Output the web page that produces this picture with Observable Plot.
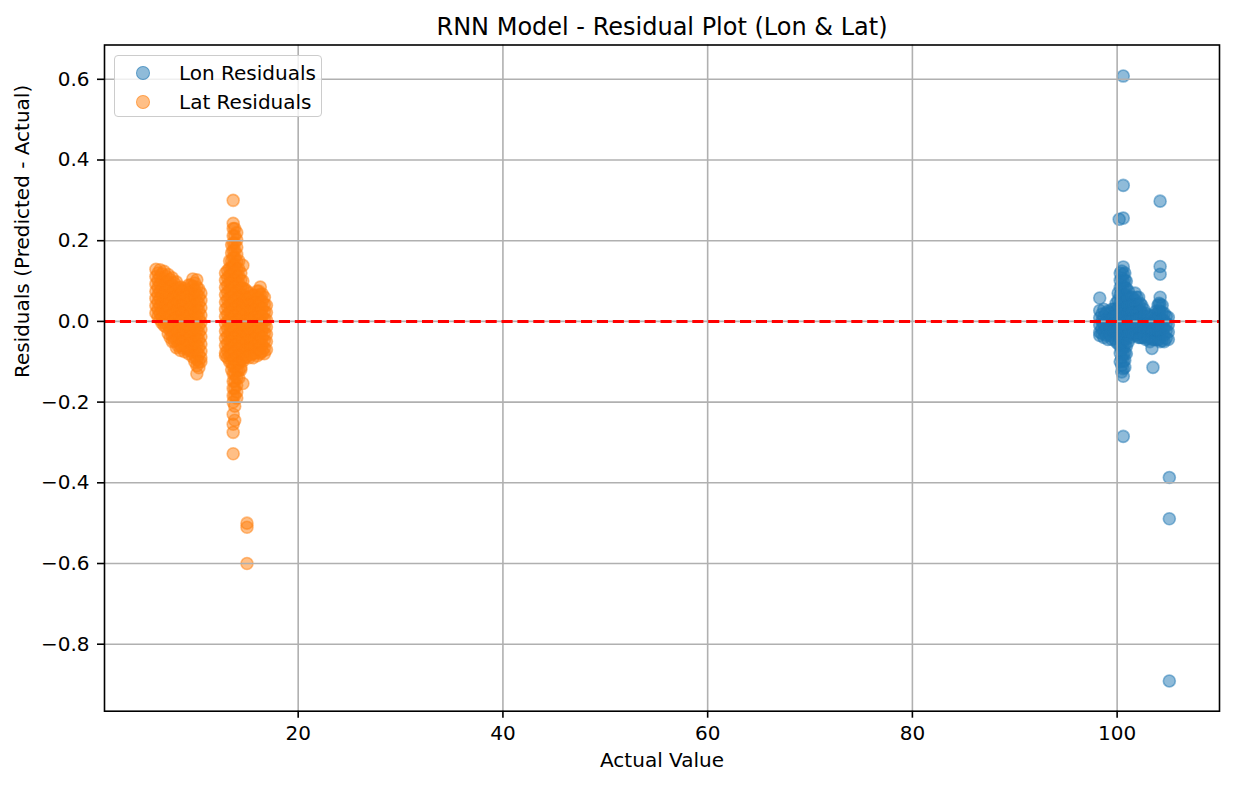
<!DOCTYPE html>
<html>
<head>
<meta charset="utf-8">
<script src="https://cdn.jsdelivr.net/npm/d3@7"></script>
<script src="https://cdn.jsdelivr.net/npm/@observablehq/plot@0.6"></script>
<style>
  body { margin: 0; background: #fff; }
  #wrap { position: relative; width: 1234px; height: 785px; font-family: "DejaVu Sans", sans-serif; }
  #legend { position: absolute; left: 114px; top: 54.5px; width: 208px; height: 62px;
    border: 1.3px solid #cccccc; border-radius: 4px; background: rgba(255,255,255,0.8); box-sizing: border-box; }
  .item { position: absolute; left: 0; height: 24px; font-size: 20px; line-height: 24px; color: #000; white-space: nowrap; }
  .sw { position: absolute; width: 12px; height: 12px; border-radius: 50%; top: 5px; left: 21px; border-width: 1.5px; border-style: solid; }
  .lab { position: absolute; left: 64px; top: 0; }
</style>
</head>
<body>
<div id="wrap"></div>
<script>
const titleText = "RNN Model - Residual Plot (Lon & Lat)";
const xLabel = "Actual Value";
const yLabel = "Residuals (Predicted - Actual)";
const seriesNames = ["Lon Residuals", "Lat Residuals"];
const seriesColors = ["#1f77b4", "#ff7f0e"];
const xTicks = [20, 40, 60, 80, 100];
const yTicks = [-0.8, -0.6, -0.4, -0.2, 0.0, 0.2, 0.4, 0.6];

// Lon residuals: [actual value, list of residuals]
const lonCols = [
  [98.3, [0.058, 0.027, 0.009, -0.009, -0.027, -0.035]],
  [98.7, [0.030, 0.012, -0.006, -0.024, -0.040]],
  [99.1, [0.025, 0.007, -0.011, -0.029, -0.045]],
  [99.5, [0.030, 0.012, -0.006, -0.024, -0.045]],
  [99.9, [0.045, 0.027, 0.009, -0.009, -0.027, -0.050]],
  [100.3, [0.120, 0.102, 0.084, 0.066, 0.048, 0.030, 0.012, -0.006, -0.024, -0.042, -0.060, -0.078, -0.100]],
  [100.6, [0.135, 0.117, 0.099, 0.081, 0.063, 0.045, 0.027, 0.009, -0.009, -0.027, -0.045, -0.063, -0.081, -0.099, -0.117, -0.136]],
  [100.9, [0.100, 0.082, 0.064, 0.046, 0.028, 0.010, -0.008, -0.026, -0.044, -0.062, -0.080]],
  [101.3, [0.060, 0.042, 0.024, 0.006, -0.012, -0.030, -0.040]],
  [101.75, [0.070, 0.052, 0.034, 0.016, -0.002, -0.020, -0.035]],
  [102.1, [0.060, 0.042, 0.024, 0.006, -0.012, -0.030, -0.040]],
  [102.4, [0.040, 0.022, 0.004, -0.014, -0.032, -0.040]],
  [102.8, [0.020, 0.002, -0.016, -0.034, -0.045]],
  [103.2, [0.015, -0.003, -0.021, -0.039, -0.050]],
  [103.4, [-0.067]],
  [103.5, [-0.114]],
  [103.6, [0.015, -0.003, -0.021, -0.039, -0.045]],
  [104.0, [0.040, 0.022, 0.004, -0.014, -0.032, -0.045]],
  [104.2, [0.298, 0.136, 0.117, 0.060, 0.042, 0.024, 0.006, -0.012, -0.030, -0.050]],
  [104.6, [0.020, 0.002, -0.016, -0.034, -0.050]],
  [105.0, [0.010, -0.008, -0.026, -0.045]],
  [105.1, [-0.387, -0.489, -0.891]],
  [100.2, [0.253]],
  [100.6, [0.608, 0.337, 0.256, -0.285]]
];
// Lon residuals, in-between readings of the dense core
const lonColsB = [
  [98.5, [0.018, 0.000, -0.018, -0.030]],
  [98.9, [0.020, 0.002, -0.016, -0.034]],
  [99.3, [0.020, 0.002, -0.016, -0.034]],
  [99.7, [0.030, 0.012, -0.006, -0.024, -0.042]],
  [100.1, [0.070, 0.052, 0.034, 0.016, -0.002, -0.020, -0.038, -0.056]],
  [100.45, [0.125, 0.107, 0.089, 0.071, 0.053, 0.035, 0.017, -0.001, -0.019, -0.037, -0.055, -0.073, -0.091, -0.109, -0.125]],
  [100.75, [0.120, 0.102, 0.084, 0.066, 0.048, 0.030, 0.012, -0.006, -0.024, -0.042, -0.060, -0.078, -0.096, -0.114]],
  [101.1, [0.075, 0.057, 0.039, 0.021, 0.003, -0.015, -0.033, -0.050]],
  [101.5, [0.060, 0.042, 0.024, 0.006, -0.012, -0.030]],
  [101.9, [0.060, 0.042, 0.024, 0.006, -0.012, -0.030]],
  [102.25, [0.045, 0.027, 0.009, -0.009, -0.027, -0.040]],
  [102.6, [0.030, 0.012, -0.006, -0.024, -0.040]],
  [103.0, [0.012, -0.006, -0.024, -0.042]],
  [103.4, [0.010, -0.008, -0.026, -0.044]],
  [103.8, [0.025, 0.007, -0.011, -0.029, -0.045]],
  [104.1, [0.045, 0.027, 0.009, -0.009, -0.027, -0.045]],
  [104.4, [0.040, 0.022, 0.004, -0.014, -0.032, -0.048]],
  [104.8, [0.012, -0.006, -0.024, -0.042]]
];

// Lat residuals: [actual value, list of residuals]
const latCols = [
  [6.1, [0.129, 0.111, 0.093, 0.075, 0.057, 0.039, 0.021]],
  [6.5, [0.128, 0.110, 0.092, 0.074, 0.056, 0.038, 0.020, 0.005]],
  [6.9, [0.124, 0.106, 0.088, 0.070, 0.052, 0.034, 0.016, -0.002, -0.010]],
  [7.3, [0.116, 0.098, 0.080, 0.062, 0.044, 0.026, 0.008, -0.010, -0.030]],
  [7.7, [0.108, 0.090, 0.072, 0.054, 0.036, 0.018, 0.000, -0.018, -0.036, -0.050]],
  [8.1, [0.098, 0.080, 0.062, 0.044, 0.026, 0.008, -0.010, -0.028, -0.046, -0.065]],
  [8.5, [0.085, 0.067, 0.049, 0.031, 0.013, -0.005, -0.023, -0.041, -0.059, -0.072]],
  [8.9, [0.082, 0.064, 0.046, 0.028, 0.010, -0.008, -0.026, -0.044, -0.062, -0.075]],
  [9.3, [0.090, 0.072, 0.054, 0.036, 0.018, 0.000, -0.018, -0.036, -0.054, -0.072, -0.080]],
  [9.7, [0.105, 0.087, 0.069, 0.051, 0.033, 0.015, -0.003, -0.021, -0.039, -0.057, -0.075, -0.088]],
  [10.1, [0.103, 0.085, 0.067, 0.049, 0.031, 0.013, -0.005, -0.023, -0.041, -0.059, -0.077, -0.095, -0.110, -0.130]],
  [10.5, [0.070, 0.052, 0.034, 0.016, -0.002, -0.020, -0.038, -0.056, -0.074, -0.090, -0.100]],
  [12.9, [0.120, 0.102, 0.084, 0.066, 0.048, 0.030, 0.012, -0.006, -0.024, -0.042, -0.060, -0.078, -0.085]],
  [13.3, [0.150, 0.132, 0.114, 0.096, 0.078, 0.060, 0.042, 0.024, 0.006, -0.012, -0.030, -0.048, -0.066, -0.084, -0.100]],
  [13.65, [0.300, 0.243, 0.230, 0.212, 0.194, 0.176, 0.158, 0.140, 0.122, 0.104, 0.086, 0.068, 0.050, 0.032, 0.014, -0.004, -0.022, -0.040, -0.058, -0.076, -0.094, -0.112, -0.130, -0.148, -0.166, -0.184, -0.200, -0.230, -0.255, -0.275, -0.328]],
  [14.0, [0.220, 0.202, 0.184, 0.166, 0.148, 0.130, 0.112, 0.094, 0.076, 0.058, 0.040, 0.022, 0.004, -0.014, -0.032, -0.050, -0.068, -0.086, -0.104, -0.122, -0.140, -0.158, -0.175, -0.190]],
  [14.4, [0.120, 0.102, 0.084, 0.066, 0.048, 0.030, 0.012, -0.006, -0.024, -0.042, -0.060, -0.078, -0.096, -0.114, -0.120]],
  [14.6, [0.139, -0.154]],
  [14.8, [0.080, 0.062, 0.044, 0.026, 0.008, -0.010, -0.028, -0.046, -0.064, -0.082, -0.090]],
  [15.0, [-0.500, -0.510, -0.600]],
  [15.2, [0.070, 0.052, 0.034, 0.016, -0.002, -0.020, -0.038, -0.056, -0.074, -0.090]],
  [15.6, [0.065, 0.047, 0.029, 0.011, -0.007, -0.025, -0.043, -0.061, -0.079, -0.090]],
  [16.0, [0.075, 0.057, 0.039, 0.021, 0.003, -0.015, -0.033, -0.051, -0.069, -0.085]],
  [16.3, [0.085, 0.067, 0.049, 0.031, 0.013, -0.005, -0.023, -0.041, -0.059, -0.077, -0.080]],
  [16.7, [0.060, 0.042, 0.024, 0.006, -0.012, -0.030, -0.048, -0.066, -0.080]],
  [16.9, [0.040, 0.022, 0.004, -0.014, -0.032, -0.050, -0.070]]
];
// Lat residuals, in-between readings of the dense core
const latColsB = [
  [6.3, [0.120, 0.102, 0.084, 0.066, 0.048, 0.030, 0.012]],
  [6.7, [0.118, 0.100, 0.082, 0.064, 0.046, 0.028, 0.010, -0.004]],
  [7.1, [0.112, 0.094, 0.076, 0.058, 0.040, 0.022, 0.004, -0.014]],
  [7.5, [0.104, 0.086, 0.068, 0.050, 0.032, 0.014, -0.004, -0.022, -0.040]],
  [7.9, [0.095, 0.077, 0.059, 0.041, 0.023, 0.005, -0.013, -0.031, -0.049]],
  [8.3, [0.083, 0.065, 0.047, 0.029, 0.011, -0.007, -0.025, -0.043, -0.061]],
  [8.7, [0.075, 0.057, 0.039, 0.021, 0.003, -0.015, -0.033, -0.051, -0.066]],
  [9.1, [0.078, 0.060, 0.042, 0.024, 0.006, -0.012, -0.030, -0.048, -0.066]],
  [9.5, [0.090, 0.072, 0.054, 0.036, 0.018, 0.000, -0.018, -0.036, -0.054, -0.072]],
  [9.9, [0.095, 0.077, 0.059, 0.041, 0.023, 0.005, -0.013, -0.031, -0.049, -0.067, -0.085, -0.100]],
  [10.3, [0.080, 0.062, 0.044, 0.026, 0.008, -0.010, -0.028, -0.046, -0.064, -0.082, -0.100, -0.115]],
  [13.1, [0.126, 0.108, 0.090, 0.072, 0.054, 0.036, 0.018, 0.000, -0.018, -0.036, -0.054, -0.072, -0.090]],
  [13.5, [0.190, 0.170, 0.150, 0.132, 0.114, 0.096, 0.078, 0.060, 0.042, 0.024, 0.006, -0.012, -0.030, -0.048, -0.066, -0.084, -0.102, -0.120]],
  [13.8, [0.230, 0.212, 0.194, 0.176, 0.158, 0.140, 0.122, 0.104, 0.086, 0.068, 0.050, 0.032, 0.014, -0.004, -0.022, -0.040, -0.058, -0.076, -0.094, -0.112, -0.130, -0.148, -0.166, -0.184, -0.210, -0.245]],
  [14.2, [0.150, 0.130, 0.112, 0.094, 0.076, 0.058, 0.040, 0.022, 0.004, -0.014, -0.032, -0.050, -0.068, -0.086, -0.104, -0.122, -0.140]],
  [14.6, [0.100, 0.082, 0.064, 0.046, 0.028, 0.010, -0.008, -0.026, -0.044, -0.062, -0.080, -0.098]],
  [15.0, [0.075, 0.057, 0.039, 0.021, 0.003, -0.015, -0.033, -0.051, -0.069, -0.087]],
  [15.4, [0.062, 0.044, 0.026, 0.008, -0.010, -0.028, -0.046, -0.064, -0.082]],
  [15.8, [0.065, 0.047, 0.029, 0.011, -0.007, -0.025, -0.043, -0.061, -0.079]],
  [16.15, [0.075, 0.057, 0.039, 0.021, 0.003, -0.015, -0.033, -0.051, -0.069]],
  [16.5, [0.068, 0.050, 0.032, 0.014, -0.004, -0.022, -0.040, -0.058, -0.074]]
];

function toRows(cols, series) {
  const rows = [];
  for (const [x, ys] of cols) for (const y of ys) rows.push({x, y, series});
  return rows;
}
const lonRows = toRows(lonCols, seriesNames[0]).concat(toRows(lonColsB, seriesNames[0]));
const latRows = toRows(latCols, seriesNames[1]).concat(toRows(latColsB, seriesNames[1]));

const dotStyle = (c) => ({x: "x", y: "y", r: 6, fill: c, fillOpacity: 0.5, stroke: c, strokeOpacity: 0.5, strokeWidth: 1.6});

const chart = Plot.plot({
  width: 1234,
  height: 785,
  marginLeft: 104,
  marginRight: 15,
  marginTop: 44.5,
  marginBottom: 74.3,
  x: {domain: [1.08, 110.0]},
  y: {domain: [-0.966, 0.685]},
  style: {fontFamily: "DejaVu Sans, sans-serif", fontSize: "20px", background: "white", color: "black", overflow: "visible"},
  marks: [
    Plot.dot(lonRows, dotStyle(seriesColors[0])),
    Plot.dot(latRows, dotStyle(seriesColors[1])),
    Plot.gridX(xTicks, {stroke: "#b0b0b0", strokeOpacity: 1, strokeWidth: 1.6}),
    Plot.gridY(yTicks, {stroke: "#b0b0b0", strokeOpacity: 1, strokeWidth: 1.6}),
    Plot.ruleY([0], {stroke: "red", strokeWidth: 3, strokeDasharray: "11.1,4.8"}),
    Plot.frame({stroke: "#000", strokeWidth: 1.6}),
    Plot.axisX(xTicks, {tickSize: 7, tickPadding: 8, fontSize: 20, label: null, strokeWidth: 1.6, tickFormat: d3.format("d")}),
    Plot.axisY(yTicks, {tickSize: 7, tickPadding: 8, fontSize: 20, label: null, strokeWidth: 1.6, tickFormat: d3.format(".1f")}),
    Plot.text([titleText], {frameAnchor: "top", dy: -17.5, fontSize: 24, lineAnchor: "middle", text: d => d}),
    Plot.text([xLabel], {frameAnchor: "bottom", dy: 49.5, fontSize: 20, lineAnchor: "middle", text: d => d}),
    Plot.text([yLabel], {frameAnchor: "left", dx: -82, rotate: -90, fontSize: 20, lineAnchor: "middle", text: d => d})
  ]
});

const wrap = document.getElementById("wrap");
wrap.appendChild(chart);

// legend
const legend = document.createElement("div");
legend.id = "legend";
seriesNames.forEach((name, i) => {
  const item = document.createElement("div");
  item.className = "item";
  item.style.top = (5.5 + i * 29) + "px";
  item.style.width = "100%";
  const sw = document.createElement("span");
  sw.className = "sw";
  const col = d3.color(seriesColors[i]);
  col.opacity = 0.5;
  sw.style.background = col.formatRgb();
  sw.style.borderColor = col.formatRgb();
  const lab = document.createElement("span");
  lab.className = "lab";
  lab.textContent = name;
  item.appendChild(sw);
  item.appendChild(lab);
  legend.appendChild(item);
});
wrap.appendChild(legend);
</script>
</body>
</html>
